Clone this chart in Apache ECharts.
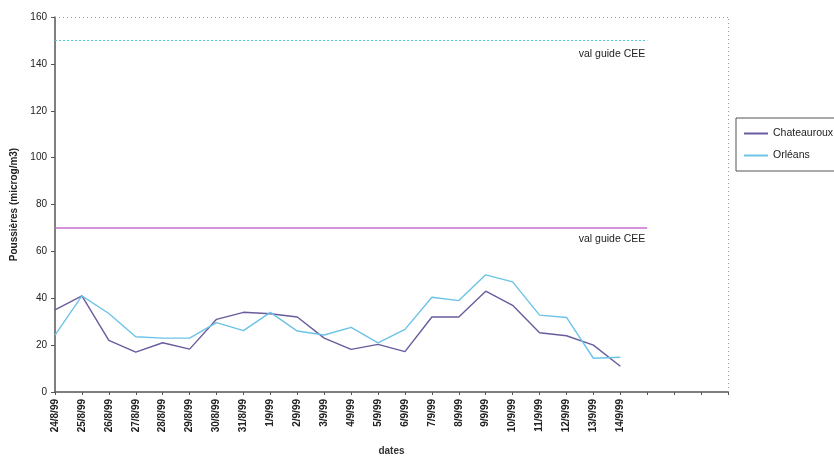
<!doctype html>
<html lang="fr">
<head>
<meta charset="UTF-8">
<title>Poussières</title>
<script src="https://cdn.jsdelivr.net/npm/echarts@6/dist/echarts.min.js"></script>
<style>
  html, body { margin: 0; padding: 0; background: #fff; }
  #main { width: 834px; height: 457px; }
</style>
</head>
<body>
<div id="main"></div>
<script>
// données
var dates = ['24/8/99','25/8/99','26/8/99','27/8/99','28/8/99','29/8/99','30/8/99','31/8/99',
             '1/9/99','2/9/99','3/9/99','4/9/99','5/9/99','6/9/99','7/9/99','8/9/99','9/9/99',
             '10/9/99','11/9/99','12/9/99','13/9/99','14/9/99','','','',''];
var chateauroux = [35, 41, 22, 17, 21, 18.3, 31, 34, 33.4, 32, 23, 18.2, 20.3, 17.2, 32, 32, 43, 37, 25.3, 24, 20, 11];
var orleans = [24.3, 41, 33.5, 23.6, 23, 23, 29.6, 26.2, 34, 26, 24.3, 27.6, 21, 26.7, 40.4, 39, 50, 47, 32.8, 31.8, 14.4, 14.8];
var guideOrleans = 150;
var guideChateauroux = 70;
var guideEnd = 22; // index de fin des lignes guides
var yMax = 160;

var myChart = echarts.init(document.getElementById('main'));

function guideLine(val, color, type, width, dist) {
    return {
        symbol: 'none',
        silent: true,
        lineStyle: { color: color, type: type, width: width, opacity: 1 },
        itemStyle: { color: color },
        emphasis: { disabled: true },
        label: {
            show: true,
            position: 'insideEndBottom',
            formatter: 'val guide CEE',
            color: '#222',
            fontSize: 10.5,
            fontFamily: 'Liberation Sans',
            distance: [2, dist]
        },
        data: [[{ coord: [0, val] }, { coord: [guideEnd, val] }]]
    };
}

var option = {
    animation: false,
    textStyle: { fontFamily: 'Liberation Sans' },
    grid: { left: 55, right: 106, top: 17, bottom: 65, containLabel: false, outerBoundsMode: 'none' },
    legend: {
        orient: 'vertical',
        left: 736, top: 118,
        padding: [10, 12, 10, 8],
        itemGap: 11,
        itemWidth: 24, itemHeight: 2,
        icon: 'rect',
        borderColor: '#555', borderWidth: 1,
        textStyle: { fontSize: 10.5, color: '#222' },
        data: ['Chateauroux', 'Orléans']
    },
    xAxis: {
        type: 'category',
        data: dates,
        boundaryGap: false,
        name: 'dates',
        nameLocation: 'middle',
        nameGap: 54,
        nameTextStyle: { fontSize: 10, color: '#333', fontWeight: 'bold' },
        axisLine: { lineStyle: { color: '#555', width: 1.5 } },
        axisTick: { alignWithLabel: true, length: 3, lineStyle: { color: '#555' } },
        axisLabel: { rotate: 90, fontSize: 10, color: '#222', interval: 0, margin: 7, fontWeight: 'bold' },
        splitLine: { show: false }
    },
    yAxis: {
        type: 'value',
        min: 0, max: yMax, interval: 20,
        name: 'Poussières (microg/m3)',
        nameLocation: 'middle',
        nameRotate: 90,
        nameGap: 32,
        nameTextStyle: { fontSize: 10, color: '#222', fontWeight: 'bold' },
        axisLine: { show: true, lineStyle: { color: '#555', width: 1.5 } },
        axisTick: { show: true, length: 4, lineStyle: { color: '#555' } },
        axisLabel: { fontSize: 10, color: '#222', margin: 8 },
        splitLine: { show: false }
    },
    series: [
        {
            name: 'Chateauroux',
            type: 'line',
            data: chateauroux,
            symbol: 'none',
            color: '#6a5a9e',
            lineStyle: { width: 1.4 },
            markLine: guideLine(guideChateauroux, '#c46fcf', 'solid', 1.6, 6)
        },
        {
            name: 'Orléans',
            type: 'line',
            data: orleans,
            symbol: 'none',
            color: '#6cc3e6',
            lineStyle: { width: 1.4 },
            markLine: guideLine(guideOrleans, '#4fcaca', [2, 2], 1.2, 8)
        },
        {
            // bordure pointillée de la zone de tracé (haut et droite)
            name: 'cadre',
            type: 'line',
            data: [],
            markLine: {
                symbol: 'none', silent: true,
                lineStyle: { color: '#999', type: [1, 3], width: 1 },
                label: { show: false },
                data: [
                    [{ coord: [0, yMax] }, { coord: [dates.length - 1, yMax] }],
                    [{ coord: [dates.length - 1, 0] }, { coord: [dates.length - 1, yMax] }]
                ]
            }
        }
    ]
};

myChart.setOption(option);
</script>
</body>
</html>
